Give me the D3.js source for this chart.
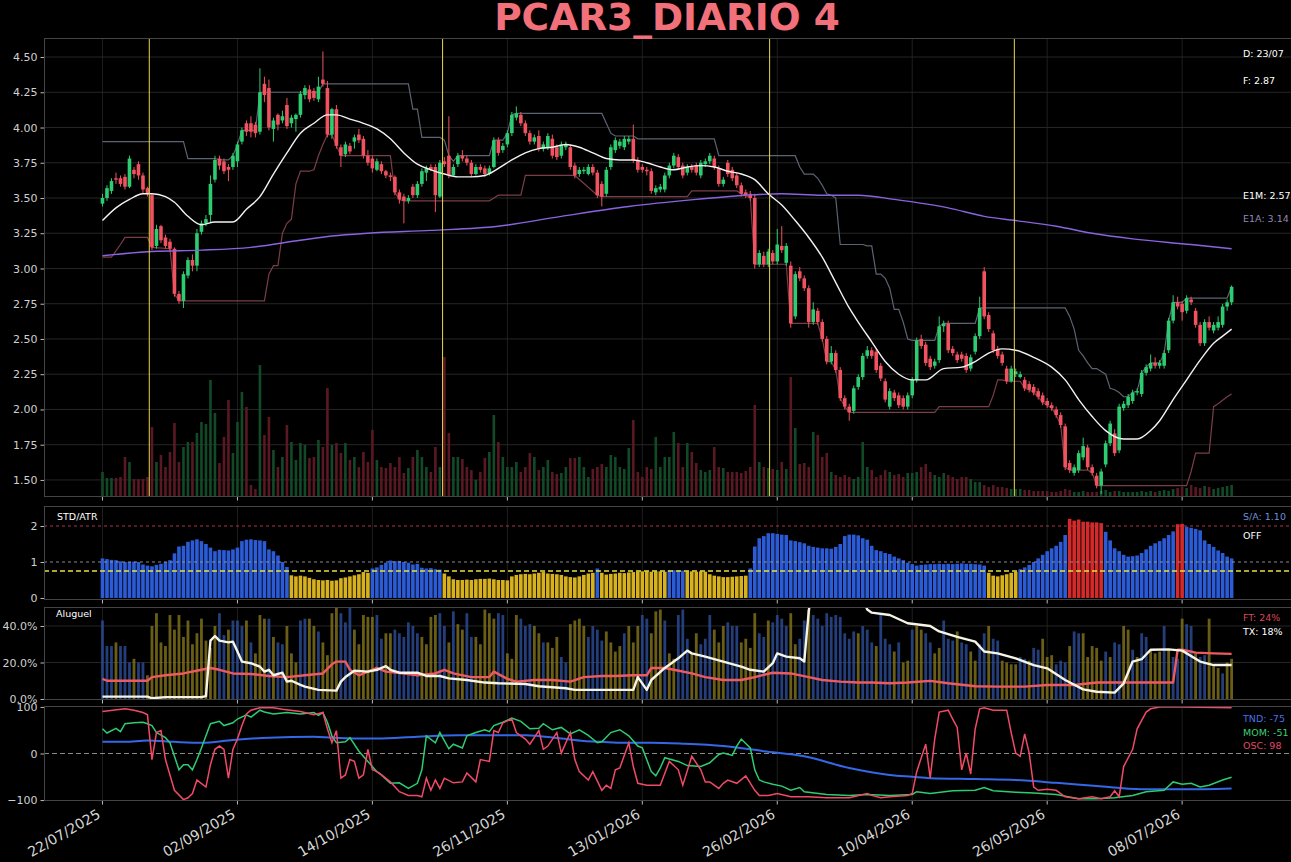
<!DOCTYPE html>
<html>
<head>
<meta charset="utf-8">
<script src="https://d3js.org/d3.v7.min.js"></script>
<style>
  html, body { margin: 0; padding: 0; background: #000; }
  svg { display: block; font-family: "DejaVu Sans", sans-serif; }
</style>
</head>
<body>
<script>
// ---------- DATA ----------
const tickIdx = [0, 30, 60, 90, 120, 150, 180, 210, 240];
const tickDates = ["22/07/2025", "02/09/2025", "14/10/2025", "26/11/2025", "13/01/2026",
  "26/02/2026", "10/04/2026", "26/05/2026", "08/07/2026"];

const opens = [
  3.46,3.50,3.55,3.64,3.64,3.65,3.58,3.70,3.74,3.66,
  3.57,3.52,3.16,3.30,3.22,3.19,3.14,2.82,2.77,2.95,
  3.06,3.02,3.26,3.32,3.38,3.63,3.78,3.76,3.72,3.72,
  3.76,3.90,4.03,4.03,4.02,3.97,4.31,4.28,3.99,4.09,
  4.05,4.16,4.03,4.06,4.09,4.23,4.27,4.26,4.20,4.34,
  4.28,3.95,4.13,3.86,3.81,3.87,3.90,3.95,3.92,3.80,
  3.78,3.70,3.74,3.69,3.66,3.65,3.54,3.51,3.48,3.58,
  3.52,3.60,3.68,3.72,3.72,3.51,3.76,3.80,3.66,3.74,
  3.80,3.78,3.75,3.67,3.72,3.71,3.67,3.72,3.91,3.84,
  3.88,3.96,4.07,4.09,4.03,3.96,3.90,3.94,3.85,3.86,
  3.92,3.86,3.80,3.86,3.86,3.73,3.67,3.69,3.67,3.72,
  3.68,3.60,3.53,3.72,3.84,3.87,3.86,3.90,3.92,3.77,
  3.72,3.70,3.69,3.54,3.56,3.56,3.66,3.73,3.79,3.73,
  3.68,3.72,3.73,3.66,3.74,3.76,3.78,3.71,3.60,3.75,
  3.70,3.66,3.59,3.54,3.53,3.50,3.03,3.09,3.03,3.11,
  3.05,3.16,3.04,3.02,2.66,2.98,2.93,2.86,2.62,2.70,
  2.62,2.50,2.34,2.40,2.28,2.08,2.02,1.99,2.16,2.23,
  2.38,2.42,2.41,2.31,2.20,2.02,2.12,2.10,2.08,2.02,
  2.10,2.21,2.50,2.46,2.36,2.31,2.35,2.59,2.61,2.43,
  2.39,2.39,2.38,2.29,2.41,2.52,2.98,2.67,2.54,2.43,
  2.39,2.29,2.20,2.25,2.23,2.21,2.18,2.16,2.13,2.10,
  2.06,2.03,2.00,1.96,1.88,1.62,1.55,1.57,1.66,1.73,
  1.59,1.53,1.46,1.61,1.76,1.83,1.71,2.01,2.03,2.06,
  2.12,2.11,2.26,2.29,2.33,2.31,2.31,2.42,2.63,2.76,
  2.75,2.70,2.78,2.70,2.60,2.47,2.62,2.56,2.58,2.60,
  2.73,2.76
];
const highs = [
  3.53,3.59,3.64,3.68,3.66,3.67,3.80,3.72,3.76,3.68,
  3.58,3.53,3.31,3.31,3.24,3.21,3.15,2.84,2.98,3.08,
  3.10,3.28,3.34,3.38,3.66,3.80,3.80,3.78,3.74,3.82,
  3.90,4.00,4.05,4.08,4.04,4.42,4.36,4.34,4.07,4.10,
  4.12,4.21,4.09,4.10,4.26,4.30,4.30,4.28,4.36,4.54,
  4.33,4.14,4.16,3.88,3.90,3.89,3.95,3.99,3.94,3.84,
  3.80,3.78,3.76,3.70,3.68,3.66,3.56,3.53,3.52,3.60,
  3.62,3.71,3.73,3.74,3.74,3.77,3.79,4.08,3.74,3.82,
  3.84,3.80,3.77,3.74,3.74,3.73,3.73,3.93,3.93,3.89,
  3.98,4.11,4.15,4.11,4.05,3.98,3.95,3.98,3.90,3.96,
  3.95,3.88,3.90,3.90,3.88,3.75,3.72,3.72,3.74,3.74,
  3.70,3.62,3.72,3.88,3.93,3.92,3.94,3.94,4.02,3.79,
  3.74,3.72,3.71,3.59,3.60,3.68,3.75,3.82,3.81,3.75,
  3.74,3.74,3.75,3.77,3.78,3.82,3.80,3.73,3.65,3.77,
  3.72,3.68,3.61,3.56,3.55,3.53,3.13,3.12,3.14,3.13,
  3.28,3.30,3.18,3.05,2.98,3.01,2.95,2.88,2.76,2.72,
  2.64,2.52,2.45,2.42,2.30,2.10,2.04,2.17,2.25,2.40,
  2.45,2.44,2.43,2.33,2.22,2.15,2.14,2.12,2.10,2.12,
  2.23,2.51,2.53,2.48,2.38,2.36,2.66,2.63,2.63,2.45,
  2.41,2.41,2.40,2.39,2.54,2.80,3.01,2.69,2.56,2.45,
  2.41,2.31,2.31,2.29,2.27,2.23,2.20,2.18,2.15,2.12,
  2.08,2.05,2.02,1.98,1.90,1.64,1.61,1.71,1.80,1.75,
  1.61,1.55,1.58,1.78,1.92,1.86,2.04,2.06,2.11,2.14,
  2.15,2.28,2.32,2.39,2.37,2.35,2.42,2.65,2.81,2.80,
  2.77,2.81,2.80,2.72,2.62,2.64,2.66,2.62,2.66,2.75,
  2.78,2.88
];
const lows = [
  3.44,3.48,3.53,3.60,3.58,3.56,3.57,3.64,3.63,3.53,
  3.51,3.13,3.14,3.18,3.14,3.12,2.80,2.75,2.72,2.93,
  2.98,2.98,3.24,3.30,3.33,3.61,3.70,3.67,3.62,3.70,
  3.72,3.88,3.94,3.93,3.93,3.95,4.18,3.98,3.90,3.98,
  4.03,3.99,4.00,3.97,4.07,4.20,4.18,4.19,4.18,4.29,
  3.93,3.92,3.85,3.72,3.79,3.81,3.85,3.89,3.78,3.73,
  3.68,3.69,3.67,3.64,3.62,3.52,3.46,3.32,3.46,3.50,
  3.50,3.58,3.62,3.69,3.40,3.50,3.72,3.64,3.65,3.72,
  3.76,3.73,3.65,3.66,3.68,3.65,3.66,3.71,3.80,3.82,
  3.86,3.94,4.05,4.01,3.94,3.88,3.88,3.83,3.83,3.84,
  3.78,3.77,3.78,3.84,3.70,3.64,3.65,3.67,3.66,3.66,
  3.50,3.44,3.51,3.70,3.82,3.85,3.84,3.88,3.75,3.68,
  3.68,3.66,3.53,3.52,3.54,3.54,3.64,3.71,3.70,3.64,
  3.66,3.68,3.66,3.64,3.72,3.74,3.70,3.58,3.58,3.65,
  3.62,3.57,3.51,3.50,3.48,3.00,3.01,3.01,3.01,3.03,
  3.03,3.11,3.02,2.58,2.64,2.91,2.84,2.58,2.60,2.60,
  2.48,2.32,2.32,2.26,2.06,2.00,1.92,1.97,2.14,2.21,
  2.36,2.36,2.26,2.20,2.05,2.00,2.06,2.01,2.00,2.00,
  2.08,2.19,2.43,2.31,2.28,2.29,2.33,2.55,2.40,2.38,
  2.33,2.34,2.26,2.27,2.39,2.50,2.64,2.55,2.40,2.36,
  2.31,2.18,2.19,2.23,2.22,2.13,2.12,2.10,2.07,2.03,
  2.01,1.99,1.94,1.87,1.57,1.55,1.53,1.55,1.64,1.57,
  1.53,1.44,1.40,1.59,1.74,1.67,1.69,1.99,2.01,2.04,
  2.10,2.09,2.24,2.27,2.29,2.29,2.29,2.40,2.61,2.71,
  2.63,2.68,2.74,2.58,2.45,2.45,2.56,2.54,2.56,2.58,
  2.70,2.74
];
const closes = [
  3.50,3.57,3.62,3.63,3.60,3.58,3.78,3.67,3.66,3.56,
  3.53,3.15,3.28,3.20,3.16,3.14,2.82,2.77,2.96,3.06,
  3.02,3.25,3.32,3.35,3.60,3.77,3.73,3.69,3.70,3.80,
  3.88,3.98,3.97,3.97,3.96,4.25,4.23,4.00,4.05,4.02,
  4.08,4.01,4.07,4.09,4.24,4.28,4.20,4.21,4.29,4.31,
  3.95,4.13,3.87,3.80,3.88,3.83,3.93,3.91,3.80,3.75,
  3.71,3.76,3.69,3.66,3.65,3.54,3.49,3.48,3.50,3.52,
  3.60,3.69,3.71,3.70,3.52,3.75,3.74,3.66,3.72,3.80,
  3.78,3.75,3.67,3.72,3.70,3.67,3.71,3.91,3.82,3.87,
  3.96,4.09,4.10,4.03,3.96,3.90,3.93,3.85,3.88,3.94,
  3.80,3.79,3.88,3.88,3.72,3.66,3.70,3.70,3.72,3.68,
  3.52,3.51,3.70,3.86,3.91,3.90,3.92,3.92,3.77,3.70,
  3.70,3.69,3.55,3.57,3.58,3.66,3.73,3.80,3.72,3.66,
  3.72,3.70,3.68,3.75,3.76,3.80,3.72,3.60,3.63,3.67,
  3.64,3.59,3.53,3.52,3.50,3.03,3.11,3.03,3.12,3.05,
  3.17,3.13,3.16,2.61,2.96,2.93,2.86,2.62,2.71,2.62,
  2.50,2.34,2.40,2.28,2.08,2.02,1.98,2.15,2.23,2.38,
  2.42,2.38,2.28,2.22,2.07,2.13,2.08,2.03,2.02,2.10,
  2.21,2.49,2.45,2.33,2.30,2.34,2.59,2.61,2.42,2.40,
  2.35,2.36,2.28,2.37,2.52,2.72,2.66,2.57,2.42,2.38,
  2.33,2.20,2.29,2.27,2.25,2.15,2.14,2.12,2.09,2.05,
  2.03,2.01,1.96,1.89,1.59,1.57,1.59,1.69,1.74,1.59,
  1.55,1.46,1.56,1.76,1.90,1.69,2.02,2.04,2.09,2.12,
  2.13,2.26,2.30,2.33,2.31,2.33,2.40,2.63,2.76,2.73,
  2.69,2.79,2.76,2.60,2.47,2.62,2.58,2.60,2.62,2.73,
  2.76,2.87
];
const volumes = [
  25,19,19,19,20,40,35,18,18,18,
  20,70,35,42,30,45,74,35,50,55,
  55,64,75,73,117,84,34,60,97,44,
  75,105,90,12,8,132,62,80,47,30,
  40,72,55,37,54,52,39,40,57,50,
  109,52,54,44,54,37,40,30,45,35,
  67,37,30,29,34,30,40,24,29,40,
  47,40,30,25,50,30,140,64,40,40,
  38,30,27,17,25,39,45,82,55,40,
  30,30,35,25,30,44,40,27,30,37,
  25,23,24,30,39,39,40,30,20,28,
  30,33,30,42,40,30,28,49,77,25,
  20,30,28,60,30,40,40,65,54,30,
  54,45,34,27,25,27,50,30,29,25,
  25,25,24,26,30,92,35,30,29,28,
  27,35,28,120,69,33,34,30,65,62,
  40,44,25,22,20,22,20,18,20,55,
  30,27,20,22,27,25,22,23,20,24,
  24,25,30,33,25,22,20,24,22,20,
  18,20,20,18,15,15,12,10,12,10,
  10,9,8,8,8,7,7,6,6,6,
  6,5,5,6,8,7,5,5,6,5,
  5,5,6,7,5,6,6,5,5,5,
  5,6,5,6,5,6,7,6,8,9,
  10,9,12,10,9,11,10,8,9,10,
  11,12
];

// moving averages [bar, value]
const e1m = [[0,3.34],[3,3.43],[6,3.49],[9,3.53],[11,3.53],[14,3.51],[16,3.47],[19,3.37],[22,3.31],
  [25,3.33],[29,3.33],[32,3.42],[35,3.51],[38,3.67],[41,3.82],[44,3.96],[47,4.03],[50,4.09],[52,4.09],
  [55,4.06],[58,4.03],[61,3.99],[64,3.92],[67,3.82],[70,3.74],[73,3.70],[76,3.67],[79,3.65],[82,3.65],
  [85,3.66],[88,3.71],[91,3.77],[94,3.82],[97,3.85],[100,3.86],[103,3.88],[106,3.86],[109,3.82],
  [112,3.78],[115,3.77],[118,3.77],[121,3.75],[124,3.72],[127,3.70],[130,3.72],[133,3.73],[136,3.72],
  [139,3.69],[142,3.67],[145,3.63],[148,3.53],[151,3.45],[154,3.34],[157,3.22],[160,3.08],[163,2.90],
  [166,2.72],[168,2.62],[171,2.48],[174,2.34],[177,2.25],[180,2.21],[183,2.21],[187,2.29],[191,2.30],
  [194,2.34],[197,2.40],[200,2.43],[203,2.42],[207,2.37],[211,2.30],[214,2.21],[217,2.07],[220,1.95],
  [223,1.85],[227,1.79],[230,1.79],[233,1.85],[235,1.92],[238,2.07],[241,2.21],[244,2.35],[247,2.47],
  [249,2.52],[251,2.57]];
const e1a = [[0,3.09],[11,3.12],[22,3.13],[33,3.15],[44,3.20],[51,3.23],[59,3.25],[73,3.27],[88,3.30],
  [102,3.37],[117,3.44],[132,3.49],[143,3.52],[151,3.53],[160,3.52],[168,3.52],[176,3.49],[188,3.43],
  [196,3.37],[203,3.34],[212,3.30],[220,3.25],[229,3.21],[242,3.17],[251,3.14]];

// channel (vertices of the step lines)
const upperBand = [[0,3.90],[18,3.90],[19,3.78],[25,3.78],[26,3.77],[28,3.77],[29,3.80],[30,3.88],
  [31,3.98],[34,3.98],[35,4.25],[48,4.25],[49,4.31],[68,4.31],[69,4.13],[70,4.13],[71,3.93],[75,3.93],
  [76,3.91],[77,3.80],[78,3.76],[79,3.80],[86,3.80],[87,3.91],[89,3.91],[90,3.96],[91,4.09],[92,4.10],
  [111,4.10],[112,4.03],[113,3.96],[114,3.94],[118,3.94],[119,3.92],[136,3.92],[137,3.80],[154,3.80],
  [155,3.72],[156,3.67],[158,3.67],[159,3.64],[160,3.59],[161,3.53],[162,3.52],[163,3.50],[164,3.17],
  [169,3.17],[170,3.16],[171,3.16],[172,2.96],[173,2.96],[174,2.93],[175,2.86],[176,2.71],[177,2.71],
  [178,2.62],[179,2.50],[180,2.49],[185,2.49],[186,2.59],[187,2.61],[194,2.61],[195,2.72],[214,2.72],
  [215,2.66],[216,2.57],[217,2.42],[218,2.38],[219,2.33],[220,2.29],[221,2.29],[222,2.27],[223,2.25],
  [224,2.15],[225,2.14],[226,2.12],[227,2.09],[228,2.09],[229,2.12],[230,2.13],[231,2.26],[232,2.30],
  [233,2.33],[235,2.33],[236,2.40],[237,2.63],[238,2.76],[240,2.76],[241,2.79],[250,2.79],[251,2.87]];
const lowerBand = [[0,3.08],[2,3.08],[4,3.17],[5,3.22],[10,3.22],[11,3.15],[15,3.14],[16,2.82],[17,2.77],
  [36,2.77],[37,2.96],[38,3.02],[39,3.02],[40,3.25],[41,3.32],[42,3.35],[43,3.60],[44,3.69],[46,3.69],
  [47,3.70],[48,3.80],[49,3.88],[50,3.95],[51,3.95],[52,3.87],[53,3.80],[64,3.80],[65,3.54],[66,3.49],
  [67,3.48],[86,3.48],[87,3.50],[88,3.52],[93,3.52],[94,3.66],[104,3.66],[105,3.66],[110,3.52],[111,3.51],
  [130,3.51],[131,3.55],[141,3.55],[142,3.53],[143,3.52],[144,3.50],[145,3.03],[152,3.03],[153,2.61],
  [159,2.61],[160,2.50],[161,2.34],[162,2.34],[163,2.28],[164,2.08],[165,2.02],[166,1.98],[185,1.98],
  [186,2.02],[197,2.02],[198,2.10],[199,2.21],[200,2.21],[201,2.20],[204,2.20],[205,2.15],[206,2.14],
  [207,2.12],[208,2.09],[209,2.05],[210,2.03],[211,2.01],[212,1.96],[213,1.89],[214,1.59],[215,1.57],
  [219,1.57],[220,1.55],[221,1.46],[241,1.46],[242,1.56],[243,1.69],[246,1.69],[247,2.02],[248,2.04],
  [250,2.09],[251,2.11]];

const signalIdx = [10.4, 75.6, 148.3, 202.7];

const stdAtr = [
  1.10,1.08,1.06,1.05,1.02,1.00,1.00,1.01,1.00,0.93,
  0.90,0.88,0.92,0.95,1.00,1.05,1.24,1.43,1.45,1.56,
  1.60,1.63,1.58,1.50,1.40,1.30,1.34,1.33,1.32,1.35,
  1.40,1.58,1.62,1.63,1.61,1.60,1.58,1.35,1.30,1.18,
  1.00,0.86,0.63,0.60,0.62,0.60,0.56,0.52,0.50,0.49,
  0.50,0.48,0.49,0.55,0.57,0.60,0.63,0.66,0.72,0.70,
  0.82,0.85,0.92,0.98,1.04,1.02,1.03,1.00,0.98,0.93,
  0.95,0.84,0.82,0.83,0.80,0.79,0.68,0.60,0.52,0.50,
  0.50,0.51,0.50,0.52,0.53,0.53,0.54,0.52,0.50,0.50,
  0.49,0.60,0.64,0.66,0.67,0.66,0.68,0.70,0.72,0.68,
  0.67,0.66,0.64,0.60,0.58,0.57,0.60,0.64,0.68,0.70,
  0.82,0.70,0.65,0.67,0.68,0.70,0.69,0.71,0.72,0.73,
  0.74,0.74,0.73,0.74,0.74,0.73,0.77,0.77,0.77,0.76,
  0.74,0.74,0.73,0.74,0.73,0.66,0.62,0.60,0.58,0.58,
  0.59,0.60,0.61,0.62,0.82,1.43,1.66,1.72,1.80,1.80,
  1.78,1.76,1.75,1.60,1.58,1.55,1.52,1.45,1.42,1.40,
  1.38,1.38,1.37,1.42,1.50,1.72,1.76,1.76,1.74,1.66,
  1.62,1.45,1.33,1.30,1.25,1.22,1.15,1.10,1.05,0.98,
  0.94,0.90,0.92,0.93,0.94,0.94,0.95,0.94,0.95,0.94,
  0.95,0.96,0.95,0.95,0.94,0.93,0.90,0.70,0.62,0.60,
  0.63,0.66,0.70,0.73,0.80,0.85,0.92,1.00,1.10,1.20,
  1.30,1.38,1.45,1.56,1.75,2.20,2.15,2.18,2.12,2.12,
  2.10,2.10,2.08,1.84,1.60,1.38,1.30,1.20,1.15,1.16,
  1.18,1.25,1.35,1.45,1.52,1.58,1.66,1.75,1.85,2.05,
  2.06,1.98,1.95,1.92,1.88,1.60,1.50,1.42,1.32,1.25,
  1.15,1.10
];
const stdLevels = [2, 1, 0.75];

const aluguel = [
  43,29,29,31,29,29,20,22,20,20,
  13,40,47,31,29,46,38,46,34,43,
  30,36,44,32,28,40,47,35,38,43,
  43,40,43,31,25,46,44,44,34,31,
  30,40,25,20,43,44,44,40,37,31,
  24,47,50,47,42,50,38,30,46,45,
  45,46,33,36,36,38,36,34,42,40,
  36,34,30,45,46,47,40,31,48,41,
  38,47,34,34,30,49,47,44,47,46,
  25,22,46,44,40,41,40,36,31,31,
  28,34,23,20,41,43,44,40,34,40,
  38,32,37,31,26,29,36,40,31,40,
  46,44,36,48,49,43,25,22,46,49,
  33,25,36,30,33,46,38,31,40,42,
  40,40,31,33,28,47,36,34,43,42,
  46,44,40,47,30,33,43,49,46,44,
  40,47,45,46,45,36,33,37,36,40,
  38,31,29,47,33,30,26,31,20,21,
  38,40,38,36,31,25,28,43,33,32,
  37,31,30,26,21,30,36,40,33,32,
  21,20,19,19,23,22,21,28,27,33,
  23,24,19,21,20,29,37,36,36,23,
  29,28,21,26,23,31,30,40,38,27,
  23,36,34,27,25,26,40,27,23,22,
  44,41,40,25,23,24,44,18,17,14,
  20,22
];
const aluguelKind = (
  "BBBYBBBYBB" + "YYYYYYYYYY" + "YYYYYYBBYB" + "BBYBYYYBYB" + "BYYYBBYYBY" +
  "YYYBBBYYYY" + "YBBYYBBBBB" + "BYYYYBBYBY" + "YBBYYYYYBB" + "YYYBBBYYBY" +
  "YYBBYYYYBB" + "BBYYYYBYYY" + "BBYYYBYYBB" + "BYYBBBYYYB" + "BBYYYYBBYB" +
  "BBBYYBBYBB" + "BBBBBBBBYB" + "BBYBBBYBYY" + "BYYBBYYBBB" + "YBBYYBBYBB" +
  "YYYYBBYBBY" + "YYBBBYBBYY" + "YYYBYBBYYB" + "YBBYYYBYBB" + "YBBYBBYYYB" + "YY").split("");

const ftLine = [[0,11],[1,10],[5,10],[10,10],[11,12],[14,13],[18,14],[22,16],[24,17],[26,16],[29,14],
  [33,13.7],[37,12.6],[41,12],[45,13],[49,14],[51,19],[52,20.5],[54,20.5],[55,16],[57,13],[59,15],[61,17],
  [63,15],[67,14],[70,13],[74,14],[76,16],[78,14],[82,12],[86,12],[87,15],[90,11],[92,9.5],[96,10.4],
  [100,10.4],[104,9.5],[107,12],[111,12.6],[114,12.6],[118,13],[121,13],[122,17],[125,17],[127,16],
  [131,14],[134,12],[138,10.4],[142,10.4],[145,12],[149,14.4],[153,14],[157,12],[160,10.4],[164,9.5],
  [168,9],[171,9],[175,8.6],[179,9],[184,9.9],[188,8.6],[194,7],[199,6.8],[205,6.8],[210,7.7],[216,7.7],
  [221,9],[227,9],[233,9],[238,9],[239,27],[240,27],[243,25.4],[247,25],[251,24.7]];
const txLine = [[0,1.3],[10,1.3],[11,0.4],[14,1],[22,1],[23,1.6],[24,32],[25,34.5],[26,32],[28,31],
  [29,31.4],[30,26],[31,20.5],[33,19.6],[35,17.7],[36,15],[37,16],[38,13],[40,14.4],[41,9.5],[42,10],
  [44,7.7],[45,6.8],[48,5],[52,4.6],[53,9.5],[54,12],[56,15.5],[59,15],[61,16],[63,18],[64,16],[66,14.4],
  [70,14.4],[72,12.6],[75,12.6],[77,11.3],[81,10.4],[85,9],[88,8.6],[94,8.2],[97,7],[100,6.4],[103,5.9],
  [105,5],[111,5],[118,5],[119,12],[121,5],[122,10.4],[125,17],[128,22.3],[130,26.5],[131,25],[134,23.2],
  [138,20.5],[142,17.7],[144,16],[147,15],[149,19.6],[150,25],[152,23.2],[155,22.3],[156,20.5],[157,48],
  [158,66],[168,62],[170,49],[171,47.3],[175,46],[179,41.5],[184,40],[186,37],[190,34],[194,31.4],
  [196,26],[199,25],[203,22.3],[207,18.6],[210,16.8],[214,10.4],[218,5.3],[221,4],[225,3.5],[227,8.6],
  [229,20.5],[231,21.8],[233,27],[237,27.2],[240,26.5],[244,20.5],[247,18.6],[251,18.6]];

const tnd = [[0,25],[5,25],[10,28],[16,25],[22,23],[29,29],[37,34],[47,36],[51,34],[61,32],[70,36],
  [79,39],[88,39],[94,39],[102,32],[107,27],[111,25],[116,23],[122,23],[129,21],[138,16],[147,5],
  [156,-6],[166,-31],[175,-46],[180,-50],[184,-53],[194,-55],[203,-57],[212,-63],[221,-70],[231,-77],
  [240,-77],[251,-75]];
const mom = [[0,53],[1,44],[3,54],[4,47],[5,64],[7,66],[9,67],[10,64],[11,60],[12,45],[14,34],[15,23],
  [16,-6],[17,-35],[18,-24],[19,-24],[20,-35],[21,-13],[22,12],[23,38],[24,64],[26,69],[27,60],[29,66],
  [30,74],[32,83],[33,78],[35,93],[36,89],[38,85],[41,88],[44,85],[47,88],[48,82],[49,88],[50,67],[51,38],
  [52,23],[54,25],[55,34],[57,5],[59,-17],[61,-39],[62,-46],[64,-64],[66,-63],[68,-75],[70,-64],[71,-35],
  [72,38],[74,23],[75,45],[77,10],[78,20],[80,12],[81,38],[83,45],[85,51],[86,47],[87,60],[89,67],[91,76],
  [93,69],[95,53],[97,54],[98,64],[100,51],[102,56],[104,42],[106,51],[108,39],[110,23],[111,25],[113,45],
  [115,51],[117,38],[119,16],[120,12],[122,-39],[123,-48],[124,-31],[125,-9],[128,-17],[130,-26],
  [133,-28],[135,-20],[137,-2],[138,1],[140,-4],[141,16],[142,31],[144,12],[145,-35],[146,-57],[147,-61],
  [149,-66],[151,-70],[153,-79],[155,-73],[156,-82],[161,-88],[166,-90],[170,-88],[175,-90],[180,-88],
  [181,-82],[184,-86],[189,-80],[194,-79],[196,-73],[198,-80],[203,-83],[207,-85],[212,-88],[217,-97],
  [221,-97],[225,-95],[229,-90],[232,-82],[236,-79],[238,-61],[240,-66],[242,-64],[244,-72],[246,-68],
  [249,-57],[251,-51]];
const osc = [[0,90],[5,96],[7,93],[9,88],[10,83],[11,-13],[12,45],[13,49],[14,-13],[15,-46],[16,-79],
  [18,-99],[19,-95],[20,-86],[21,-57],[23,-72],[24,-24],[25,9],[26,16],[27,9],[28,-53],[29,9],[30,31],
  [31,60],[32,85],[33,93],[35,98],[38,98],[40,95],[44,90],[47,83],[49,88],[50,53],[51,23],[52,49],
  [53,-53],[54,-46],[55,-13],[56,-17],[57,-53],[58,-46],[59,9],[60,-35],[61,-39],[62,-46],[64,-61],
  [66,-82],[68,-90],[70,-90],[71,-93],[72,-53],[73,-79],[74,-57],[75,-75],[76,-53],[78,-63],[80,-61],
  [81,-42],[83,-61],[84,-13],[86,-17],[87,49],[88,45],[89,66],[91,74],[92,45],[94,31],[95,20],[97,49],
  [98,9],[99,16],[101,45],[102,1],[104,45],[105,-13],[106,-39],[108,-57],[109,-39],[111,-79],[112,-68],
  [113,-75],[114,-35],[115,-31],[117,23],[118,-28],[119,-64],[121,-68],[124,-68],[126,-17],[128,-35],
  [129,-68],[131,-6],[133,-35],[134,-61],[135,-61],[137,-75],[138,-64],[139,-57],[141,-64],[143,-48],
  [145,-79],[146,-90],[148,-90],[150,-86],[153,-93],[157,-93],[161,-95],[166,-95],[170,-86],[171,-90],
  [173,-95],[175,-93],[179,-90],[180,-86],[181,-39],[183,20],[184,-53],[185,31],[186,89],[188,93],
  [189,74],[190,56],[191,-35],[192,1],[193,-44],[194,53],[195,96],[196,98],[198,93],[201,93],[202,45],
  [203,1],[204,-6],[205,42],[206,1],[207,-72],[208,-79],[210,-77],[212,-79],[214,-93],[217,-97],
  [220,-93],[222,-97],[224,-93],[225,-80],[226,-93],[227,-28],[229,9],[230,53],[232,89],[233,96],
  [235,100],[240,100],[251,98]];

// ---------- LAYOUT ----------
const W = 1291, H = 862;
const UP = "#2ecc71", DOWN = "#f0525f";
const svg = d3.select("body").append("svg").attr("width", W).attr("height", H);
svg.append("rect").attr("width", W).attr("height", H).attr("fill", "#000");

const x = d3.scaleLinear().domain([-13, 264.2]).range([44, 1291]);
const P = {
  main: { top: 38, bottom: 497 },
  std:  { top: 506, bottom: 600 },
  alug: { top: 607, bottom: 700 },
  osc:  { top: 706, bottom: 801 }
};
const yP = d3.scaleLinear().domain([1.379, 4.635]).range([P.main.bottom, P.main.top]);
const yVol = d3.scaleLinear().domain([0, 459]).range([P.main.bottom, P.main.top]);
const yS = d3.scaleLinear().domain([-0.056, 2.556]).range([P.std.bottom, P.std.top]);
const yA = d3.scaleLinear().domain([-0.55, 50.4]).range([P.alug.bottom, P.alug.top]);
const yO = d3.scaleLinear().domain([-102, 102]).range([P.osc.bottom, P.osc.top]);

const defs = svg.append("defs");
Object.entries(P).forEach(([k, p]) => {
  defs.append("clipPath").attr("id", "clip-" + k)
    .append("rect").attr("x", 44).attr("y", p.top).attr("width", W - 44).attr("height", p.bottom - p.top);
});

function panelGroup(key) {
  return svg.append("g").attr("clip-path", `url(#clip-${key})`);
}

// grid + frame
function frame(p, yScale, yTicks) {
  const g = svg.append("g");
  tickIdx.forEach(t => {
    g.append("line").attr("x1", x(t)).attr("x2", x(t)).attr("y1", p.top).attr("y2", p.bottom)
      .attr("stroke", "#1f1f1f").attr("stroke-width", 1);
  });
  if (yTicks) {
    yTicks.forEach(v => {
      g.append("line").attr("x1", 44).attr("x2", W).attr("y1", yScale(v)).attr("y2", yScale(v))
        .attr("stroke", "#262626").attr("stroke-width", 1);
    });
  }
  return g;
}
function spines(p) {
  const g = svg.append("g").attr("stroke", "#444").attr("stroke-width", 1).attr("fill", "none");
  g.append("line").attr("x1", 44).attr("x2", W).attr("y1", p.top + 0.5).attr("y2", p.top + 0.5);
  g.append("line").attr("x1", 44).attr("x2", W).attr("y1", p.bottom - 0.5).attr("y2", p.bottom - 0.5);
  g.append("line").attr("x1", 44.5).attr("x2", 44.5).attr("y1", p.top).attr("y2", p.bottom);
  // bottom x tick marks
  tickIdx.forEach(t => {
    g.append("line").attr("x1", x(t)).attr("x2", x(t)).attr("y1", p.bottom).attr("y2", p.bottom + 3.5)
      .attr("stroke", "#bbb");
  });
}
function leftAxis(yScale, values, fmt) {
  const g = svg.append("g").attr("transform", "translate(44,0)")
    .call(d3.axisLeft(yScale).tickValues(values).tickFormat(fmt).tickSize(3.5).tickPadding(3));
  g.select(".domain").remove();
  g.selectAll(".tick line").attr("stroke", "#bbb");
  g.selectAll(".tick text").attr("fill", "#d0d0d0").style("font-size", "11px")
    .style("font-family", "DejaVu Sans, sans-serif");
}

// ---------- MAIN PRICE PANEL ----------
const priceTicks = [1.5, 1.75, 2.0, 2.25, 2.5, 2.75, 3.0, 3.25, 3.5, 3.75, 4.0, 4.25, 4.5];
frame(P.main, yP, priceTicks);
const gM = panelGroup("main");
const bars = d3.range(closes.length);

gM.selectAll("rect.vol").data(bars).join("rect").attr("class", "vol")
  .attr("x", i => x(i) - 1.3).attr("width", 2.6)
  .attr("y", i => yVol(volumes[i])).attr("height", i => yVol(0) - yVol(volumes[i]))
  .attr("fill", i => closes[i] >= opens[i] ? "#124a28" : "#5a1822");

const lineP = d3.line().x(d => x(d[0])).y(d => yP(d[1]));
gM.append("path").datum(upperBand).attr("d", lineP).attr("fill", "none")
  .attr("stroke", "#5b6472").attr("stroke-width", 1.2);
gM.append("path").datum(lowerBand).attr("d", lineP).attr("fill", "none")
  .attr("stroke", "#7a3e48").attr("stroke-width", 1.2);

gM.selectAll("line.wick").data(bars).join("line").attr("class", "wick")
  .attr("x1", i => x(i)).attr("x2", i => x(i))
  .attr("y1", i => yP(highs[i])).attr("y2", i => yP(lows[i]))
  .attr("stroke", i => closes[i] >= opens[i] ? UP : DOWN).attr("stroke-width", 1);
gM.selectAll("rect.body").data(bars).join("rect").attr("class", "body")
  .attr("x", i => x(i) - 1.8).attr("width", 3.6)
  .attr("y", i => yP(Math.max(opens[i], closes[i])))
  .attr("height", i => Math.max(1, Math.abs(yP(opens[i]) - yP(closes[i]))))
  .attr("fill", i => closes[i] >= opens[i] ? UP : DOWN);

const smoothP = d3.line().x(d => x(d[0])).y(d => yP(d[1])).curve(d3.curveMonotoneX);
gM.append("path").datum(e1a).attr("d", smoothP).attr("fill", "none")
  .attr("stroke", "#8a63e0").attr("stroke-width", 1.4);
gM.append("path").datum(e1m).attr("d", smoothP).attr("fill", "none")
  .attr("stroke", "#f2f2f2").attr("stroke-width", 1.4);

gM.selectAll("line.sig").data(signalIdx).join("line").attr("class", "sig")
  .attr("x1", d => x(d)).attr("x2", d => x(d)).attr("y1", P.main.top).attr("y2", P.main.bottom)
  .attr("stroke", "#e8d84a").attr("stroke-width", 1);

spines(P.main);
leftAxis(yP, priceTicks, d3.format(".2f"));

// ---------- STD/ATR PANEL ----------
frame(P.std, yS, null);
const gS = panelGroup("std");
gS.selectAll("rect").data(bars).join("rect")
  .attr("x", i => x(i) - 1.8).attr("width", 3.6)
  .attr("y", i => yS(stdAtr[i])).attr("height", i => yS(0) - yS(stdAtr[i]))
  .attr("fill", i => stdAtr[i] >= 2 ? "#d42a2a" : (stdAtr[i] < 0.75 ? "#d8b21e" : "#2b5bd6"));
const levelStyle = [
  { stroke: "#b03448", dash: "3,3", w: 1 },
  { stroke: "#9a9a9a", dash: "3,3", w: 0.9 },
  { stroke: "#e6e040", dash: "5,3", w: 1.4 }
];
stdLevels.forEach((v, k) => {
  gS.append("line").attr("x1", 44).attr("x2", W).attr("y1", yS(v)).attr("y2", yS(v))
    .attr("stroke", levelStyle[k].stroke).attr("stroke-dasharray", levelStyle[k].dash)
    .attr("stroke-width", levelStyle[k].w);
});
spines(P.std);
leftAxis(yS, [0, 1, 2], d3.format("d"));

// ---------- ALUGUEL PANEL ----------
frame(P.alug, yA, [20, 40]);
const gA = panelGroup("alug");
gA.selectAll("rect").data(bars).join("rect")
  .attr("x", i => x(i) - 1.4).attr("width", 2.8)
  .attr("y", i => yA(aluguel[i])).attr("height", i => yA(0) - yA(aluguel[i]))
  .attr("fill", i => aluguelKind[i] === "B" ? "#2c4d98" : "#85761c")
  .attr("opacity", 0.8);
const lineA = d3.line().x(d => x(d[0])).y(d => yA(d[1]));
gA.append("path").datum(ftLine).attr("d", lineA).attr("fill", "none")
  .attr("stroke", "#ee5a62").attr("stroke-width", 2.4).attr("stroke-linejoin", "round");
gA.append("path").datum(txLine).attr("d", lineA).attr("fill", "none")
  .attr("stroke", "#f6f4e6").attr("stroke-width", 2.4).attr("stroke-linejoin", "round");
spines(P.alug);
leftAxis(yA, [0, 20, 40], d => d3.format(".1f")(d) + "%");

// ---------- OSCILLATOR PANEL ----------
frame(P.osc, yO, null);
const gO = panelGroup("osc");
gO.append("line").attr("x1", 44).attr("x2", W).attr("y1", yO(0)).attr("y2", yO(0))
  .attr("stroke", "#8a8a8a").attr("stroke-dasharray", "5,3").attr("stroke-width", 1);
const lineO = d3.line().x(d => x(d[0])).y(d => yO(d[1]));
gO.append("path").datum(tnd).attr("d", lineO.curve(d3.curveMonotoneX)).attr("fill", "none")
  .attr("stroke", "#3468e6").attr("stroke-width", 2);
const lineO2 = d3.line().x(d => x(d[0])).y(d => yO(d[1]));
gO.append("path").datum(mom).attr("d", lineO2).attr("fill", "none")
  .attr("stroke", "#2ecc71").attr("stroke-width", 1.5);
gO.append("path").datum(osc).attr("d", lineO2).attr("fill", "none")
  .attr("stroke", "#f04a66").attr("stroke-width", 1.5);
spines(P.osc);
leftAxis(yO, [-100, 0, 100], d => d < 0 ? "\u2212" + Math.abs(d) : String(d));

// x axis labels
const xg = svg.append("g");
tickIdx.forEach((t, k) => {
  xg.append("text").text(tickDates[k])
    .attr("transform", `translate(${x(t) - 1},${P.osc.bottom + 16}) rotate(-30)`)
    .attr("text-anchor", "end").attr("fill", "#d6d6d6").style("font-size", "14px");
});

// ---------- TEXTS ----------
svg.append("text").text("PCAR3_DIARIO 4").attr("x", 667).attr("y", 30)
  .attr("text-anchor", "middle").attr("fill", "#f2707a")
  .style("font-size", "37.5px").style("font-weight", "bold");

const sideLabels = [
  { t: "D: 23/07", y: 57, c: "#ffffff" },
  { t: "F: 2.87", y: 84, c: "#ffffff" },
  { t: "E1M: 2.57", y: 199, c: "#ffffff" },
  { t: "E1A: 3.14", y: 222, c: "#9288b8" },
  { t: "S/A: 1.10", y: 520, c: "#6d8fd6" },
  { t: "OFF", y: 539, c: "#ffffff" },
  { t: "FT: 24%", y: 621, c: "#d8485a" },
  { t: "TX: 18%", y: 635, c: "#ffffff" },
  { t: "TND: -75", y: 722, c: "#4a70e6" },
  { t: "MOM: -51", y: 736, c: "#3ccf72" },
  { t: "OSC: 98", y: 749, c: "#e04a62" }
];
sideLabels.forEach(d => {
  svg.append("text").text(d.t).attr("x", 1243).attr("y", d.y).attr("fill", d.c)
    .style("font-size", "9.5px");
});
svg.append("text").text("STD/ATR").attr("x", 57).attr("y", 520).attr("fill", "#fff").style("font-size", "9.5px");
svg.append("text").text("Aluguel").attr("x", 56).attr("y", 617).attr("fill", "#fff").style("font-size", "9.5px");
</script>
</body>
</html>
